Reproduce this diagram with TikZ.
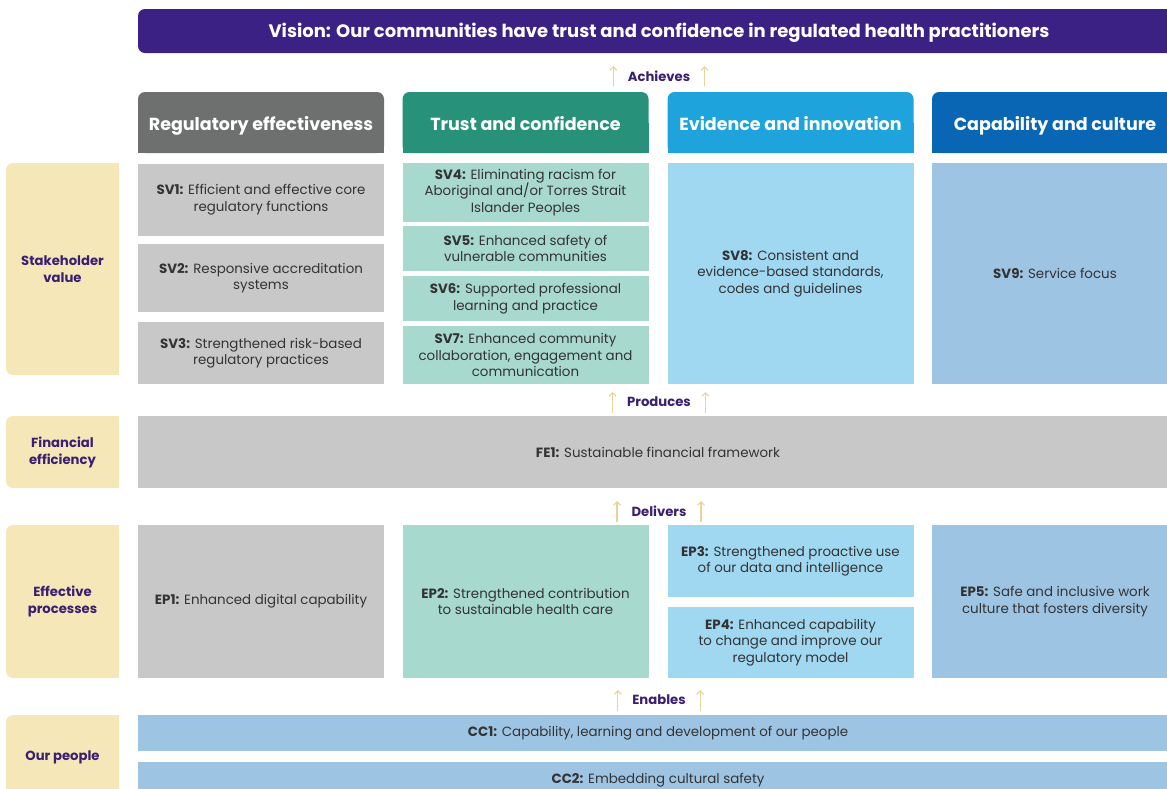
\documentclass[tikz,border=0pt]{standalone}
\usepackage{fontspec}
\setmainfont{Poppins}
\usetikzlibrary{arrows.meta,backgrounds}
\definecolor{visionPurple}{HTML}{3C2185}
\definecolor{hdrGrey}{HTML}{6E6F6F}
\definecolor{hdrTeal}{HTML}{28917A}
\definecolor{hdrCyan}{HTML}{1EA3DD}
\definecolor{hdrBlue}{HTML}{0866B5}
\definecolor{boxGrey}{HTML}{C8C8C8}
\definecolor{boxTeal}{HTML}{A7D9CF}
\definecolor{boxCyan}{HTML}{A0D7F1}
\definecolor{boxBlue}{HTML}{9EC4E4}
\definecolor{labelYellow}{HTML}{F5E7B8}
\definecolor{labelText}{HTML}{3A1F70}
\definecolor{arrowYellow}{HTML}{EAD39A}
\definecolor{bodyText}{HTML}{333333}
\tikzset{
  box/.style={rectangle, inner sep=2pt, outer sep=0pt, align=center, text=bodyText,
    font=\fontsize{13.4}{16.5}\selectfont, minimum width=246pt},
  header/.style={box, rounded corners=7pt, text=white, text height=15pt, text depth=0pt,
    font=\bfseries\fontsize{17.5}{20}\selectfont},
  pillar/.style={rectangle, inner sep=2pt, outer sep=0pt, align=center, fill=labelYellow,
    rounded corners=7pt, text=labelText, minimum width=113pt,
    font=\bfseries\fontsize{13.2}{17}\selectfont},
  linktext/.style={text=labelText, font=\bfseries\fontsize{13.2}{15}\selectfont},
  upArrow/.style={arrowYellow, line width=1.1pt, -{Straight Barb[length=3.5pt,width=7pt]}},
}
\begin{document}
\begin{tikzpicture}[x=1pt, y=-1pt]
        \useasboundingbox (0,0) rectangle (1167,788);

        % vision
        \node[header, fill=visionPurple, minimum width=1042pt, minimum height=44pt,
          text height=13pt, font=\bfseries\fontsize{18}{20}\selectfont] (vision) at (659,31)
          {Vision: Our communities have trust and confidence in regulated health practitioners};
        \node[linktext] (achieves) at (659,76) {Achieves};
        \draw[upArrow] ([xshift=-11pt,yshift=-10pt]achieves.west) -- ([xshift=-11pt,yshift=10pt]achieves.west);
        \draw[upArrow] ([xshift=11pt,yshift=-10pt]achieves.east) -- ([xshift=11pt,yshift=10pt]achieves.east);

        % headers
        \node[header, fill=hdrGrey, minimum height=61pt] (h1) at (261,122.5) {Regulatory effectiveness};
        \node[header, fill=hdrTeal, minimum height=61pt] (h2) at (525.5,122.5) {Trust and confidence};
        \node[header, fill=hdrCyan, minimum height=61pt] (h3) at (790.5,122.5) {Evidence and innovation};
        \node[header, fill=hdrBlue, minimum height=61pt] (h4) at (1055,122.5) {Capability and culture};

        % stakeholder value
        \node[pillar, minimum height=212pt] (stake) at (62.5,269) {Stakeholder\\value};
        \node[box, fill=boxGrey, minimum height=72pt] (sv1) at (261,199.5)
          {\textbf{SV1:} Efficient and effective core\\regulatory functions};
        \node[box, fill=boxGrey, minimum height=68pt] (sv2) at (261,278)
          {\textbf{SV2:} Responsive accreditation\\systems};
        \node[box, fill=boxGrey, minimum height=62pt] (sv3) at (261,353)
          {\textbf{SV3:} Strengthened risk-based\\regulatory practices};
        \node[box, fill=boxTeal, minimum height=59pt] (sv4) at (525.5,192.5)
          {\textbf{SV4:} Eliminating racism for\\Aboriginal and/or Torres Strait\\Islander Peoples};
        \node[box, fill=boxTeal, minimum height=45pt] (sv5) at (525.5,248.5)
          {\textbf{SV5:} Enhanced safety of\\vulnerable communities};
        \node[box, fill=boxTeal, minimum height=45pt] (sv6) at (525.5,298.5)
          {\textbf{SV6:} Supported professional\\learning and practice};
        \node[box, fill=boxTeal, minimum height=58pt] (sv7) at (525.5,355)
          {\textbf{SV7:} Enhanced community\\collaboration, engagement and\\communication};
        \node[box, fill=boxCyan, minimum height=221pt] (sv8) at (790.5,273.5)
          {\textbf{SV8:} Consistent and\\evidence-based standards,\\codes and guidelines};
        \node[box, fill=boxBlue, minimum height=221pt] (sv9) at (1055,273.5)
          {\textbf{SV9:} Service focus};

        \node[linktext] (produces) at (659,402) {Produces};
        \draw[upArrow] ([xshift=-11pt,yshift=-11pt]produces.west) -- ([xshift=-11pt,yshift=10pt]produces.west);
        \draw[upArrow] ([xshift=11pt,yshift=-11pt]produces.east) -- ([xshift=11pt,yshift=10pt]produces.east);

        % financial efficiency
        \node[pillar, minimum height=72pt] (fin) at (62.5,452) {Financial\\efficiency};
        \node[box, fill=boxGrey, minimum width=1040pt, minimum height=72pt] (fe1) at (658,452)
          {\textbf{FE1:} Sustainable financial framework};

        \node[linktext] (delivers) at (659,511) {Delivers};
        \draw[upArrow] ([xshift=-11pt,yshift=-11pt]delivers.west) -- ([xshift=-11pt,yshift=10pt]delivers.west);
        \draw[upArrow] ([xshift=11pt,yshift=-11pt]delivers.east) -- ([xshift=11pt,yshift=10pt]delivers.east);

        % effective processes
        \node[pillar, minimum height=153pt] (eff) at (62.5,601.5) {Effective\\processes};
        \node[box, fill=boxGrey, minimum height=153pt] (ep1) at (261,601.5)
          {\textbf{EP1:} Enhanced digital capability};
        \node[box, fill=boxTeal, minimum height=153pt] (ep2) at (525.5,601.5)
          {\textbf{EP2:} Strengthened contribution\\to sustainable health care};
        \node[box, fill=boxCyan, minimum height=72pt] (ep3) at (790.5,561)
          {\textbf{EP3:} Strengthened proactive use\\of our data and intelligence};
        \node[box, fill=boxCyan, minimum height=71pt] (ep4) at (790.5,642.5)
          {\textbf{EP4:} Enhanced capability\\to change and improve our\\regulatory model};
        \node[box, fill=boxBlue, minimum height=153pt] (ep5) at (1055,601.5)
          {\textbf{EP5:} Safe and inclusive work\\culture that fosters diversity};

        \node[linktext] (enables) at (659,700) {Enables};
        \draw[upArrow] ([xshift=-11pt,yshift=-11pt]enables.west) -- ([xshift=-11pt,yshift=10pt]enables.west);
        \draw[upArrow] ([xshift=11pt,yshift=-11pt]enables.east) -- ([xshift=11pt,yshift=10pt]enables.east);

        % our people
        \node[pillar, minimum height=85pt] (people) at (62.5,757.5) {Our people};
        \node[box, fill=boxBlue, minimum width=1040pt, minimum height=36pt] (cc1) at (658,733)
          {\textbf{CC1:} Capability, learning and development of our people};
        \node[box, fill=boxBlue, minimum width=1040pt, minimum height=36pt] (cc2) at (658,780)
          {\textbf{CC2:} Embedding cultural safety};

        % square off the rounded corners
        \begin{scope}[on background layer]
          \fill[visionPurple] (vision.north) rectangle (vision.south east);
          \fill[hdrGrey] (h1.west) rectangle (h1.south east);
          \fill[hdrTeal] (h2.west) rectangle (h2.south east);
          \fill[hdrCyan] (h3.west) rectangle (h3.south east);
          \fill[hdrBlue] (h4.west) rectangle (h4.south east);
          \fill[labelYellow] (stake.north) rectangle (stake.south east);
          \fill[labelYellow] (fin.north) rectangle (fin.south east);
          \fill[labelYellow] (eff.north) rectangle (eff.south east);
          \fill[labelYellow] (people.north) rectangle (people.south east);
        \end{scope}
\end{tikzpicture}
\end{document}
